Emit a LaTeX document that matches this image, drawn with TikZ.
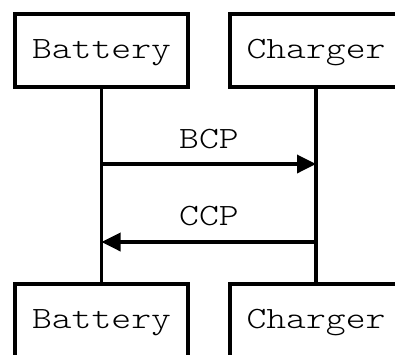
\documentclass[tikz,border=0pt]{standalone}
\usepackage{fontspec}
\newfontfamily\monolight[FakeStretch=1.22]{Latin Modern Mono Light}
\usetikzlibrary{arrows.meta}
\tikzset{
  actor/.style={draw, line width=4pt, minimum width=173pt, inner sep=0pt,
    text height=27pt, text depth=12pt,
    font=\monolight\fontsize{31}{37}\selectfont},
  lifeline/.style={line width=3.5pt},
  msg/.style={line width=3.5pt, -{Triangle[length=19pt,width=18pt]}},
  lbl/.style={font=\monolight\fontsize{31}{37}\selectfont, inner sep=0pt, anchor=base}
}
\begin{document}
\begin{tikzpicture}[x=1pt,y=-1pt]
\useasboundingbox (0,0) rectangle (395,354);
\clip (0,0) rectangle (395,354);
\node[actor, minimum height=73pt] (bt) at (101.5,50.5) {Battery};
\node[actor, minimum height=73pt] (ct) at (316,50.5) {Charger};
\node[actor, minimum height=74pt] (bb) at (101.5,320.5) {Battery};
\node[actor, minimum height=74pt] (cb) at (316,320.5) {Charger};
\draw[lifeline] (bt.south) -- (bb.north);
\draw[lifeline] (ct.south) -- (cb.north);
\coordinate (b1) at (101.5,164);
\coordinate (c1) at (316,164);
\coordinate (b2) at (101.5,242);
\coordinate (c2) at (316,242);
\draw[msg] (b1) -- (c1);
\draw[msg] (c2) -- (b2);
\node[lbl] (l1) at (209,148) {BCP};
\node[lbl] (l2) at (209,225) {CCP};
\end{tikzpicture}
\end{document}
